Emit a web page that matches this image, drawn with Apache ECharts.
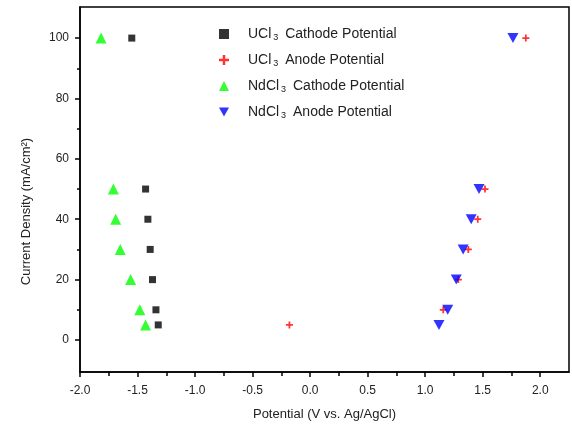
<!DOCTYPE html>
<html><head><meta charset="utf-8">
<script src="https://cdn.jsdelivr.net/npm/echarts@6/dist/echarts.min.js"></script>
<style>html,body{margin:0;padding:0;background:#fff}#c{width:572px;height:426px}</style>
</head><body><div id="c"></div>
<script>
var seriesNames = ['UCl{s|3} Cathode Potential', 'UCl{s|3} Anode Potential', 'NdCl{s|3} Cathode Potential', 'NdCl{s|3} Anode Potential'];
var currentDensity = [100, 50, 40, 30, 20, 10, 5];
var uclCathode = [-1.55, -1.43, -1.41, -1.39, -1.37, -1.34, -1.32];
var uclAnode = [1.875, 1.52, 1.457, 1.375, 1.288, 1.157, -0.18];
var ndclCathode = [-1.817, -1.71, -1.69, -1.65, -1.56, -1.48, -1.43];
var ndclAnode = [1.763, 1.468, 1.40, 1.33, 1.27, 1.196, 1.12];
var xTicks = [-2.0, -1.5, -1.0, -0.5, 0.0, 0.5, 1.0, 1.5, 2.0];
var xMinorTicks = [-1.75, -1.25, -0.75, -0.25, 0.25, 0.75, 1.25, 1.75];
var yTicks = [0, 20, 40, 60, 80, 100];
var yMinorTicks = [10, 30, 50, 70, 90];

function pairs(xs){ return xs.map(function(x,i){ return [x, currentDensity[i]]; }); }
var font = 'Liberation Sans, Arial, sans-serif';
var chart = echarts.init(document.getElementById('c'));
var axisLine = {onZero:false, lineStyle:{color:'#000', width:1.5}};
chart.setOption({
  animation:false,
  grid:{left:80, right:3, top:7, bottom:54, show:true, borderColor:'#000', borderWidth:1.5},
  legend:{
    left:214, top:22, orient:'vertical', itemGap:10.5, itemWidth:10, itemHeight:10,
    data:[
      {name:seriesNames[0], icon:'rect', itemStyle:{color:'#000'}},
      {name:seriesNames[1], icon:'path://M3,0h2v3h3v2h-3v3h-2v-3h-3v-2h3z'},
      {name:seriesNames[2], icon:'triangle'},
      {name:seriesNames[3], icon:'path://M0,0L10,0L5,9z'}
    ],
    textStyle:{fontFamily:font, fontSize:14, color:'#222', padding:[0,0,0,14],
      rich:{s:{fontFamily:font, fontSize:9, verticalAlign:'bottom', padding:[8,3,0,2]}}}
  },
  xAxis:[{
    type:'value', min:-2.0, max:2.25, position:'bottom',
    name:'Potential (V vs. Ag/AgCl)', nameLocation:'middle', nameGap:36,
    nameTextStyle:{fontFamily:font, fontSize:13, color:'#222'},
    axisLine:axisLine,
    axisTick:{show:true, customValues:xTicks, length:5, lineStyle:{color:'#000', width:1.5}},
    axisLabel:{customValues:xTicks, formatter:function(v){return v.toFixed(1);}, fontFamily:font, fontSize:12, color:'#222', margin:13},
    splitLine:{show:false}
  },{
    type:'value', min:-2.0, max:2.25, position:'bottom',
    axisLine:{show:false, onZero:false},
    axisTick:{show:true, customValues:xMinorTicks, length:4, lineStyle:{color:'#000', width:1.5}},
    axisLabel:{show:false}, splitLine:{show:false}
  }],
  yAxis:[{
    type:'value', min:-10.6, max:110.3, position:'left',
    name:'Current Density (mA/cm²)', nameLocation:'middle', nameGap:47,
    nameTextStyle:{fontFamily:font, fontSize:13, color:'#222', padding:[0,44,0,0]},
    axisLine:axisLine,
    axisTick:{show:true, customValues:yTicks, length:5, lineStyle:{color:'#000', width:1.5}},
    axisLabel:{customValues:yTicks, fontFamily:font, fontSize:12, color:'#222', margin:11},
    splitLine:{show:false}
  },{
    type:'value', min:-10.6, max:110.3, position:'left',
    axisLine:{show:false, onZero:false},
    axisTick:{show:true, customValues:yMinorTicks, length:3, lineStyle:{color:'#000', width:1.5}},
    axisLabel:{show:false}, splitLine:{show:false}
  }],
  series:[
    {name:seriesNames[0], type:'scatter', data:pairs(uclCathode), symbol:'rect', symbolSize:7, itemStyle:{color:'#000'}},
    {name:seriesNames[1], type:'scatter', data:pairs(uclAnode), symbol:'path://M3,0h2v3h3v2h-3v3h-2v-3h-3v-2h3z', symbolSize:7, itemStyle:{color:'#f00'}},
    {name:seriesNames[2], type:'scatter', data:pairs(ndclCathode), symbol:'triangle', symbolSize:11, itemStyle:{color:'#0f0'}},
    {name:seriesNames[3], type:'scatter', data:pairs(ndclAnode), symbol:'path://M0,0L10,0L5,9z', symbolSize:[11,10], itemStyle:{color:'#00f'}}
  ]
});
</script></body></html>
